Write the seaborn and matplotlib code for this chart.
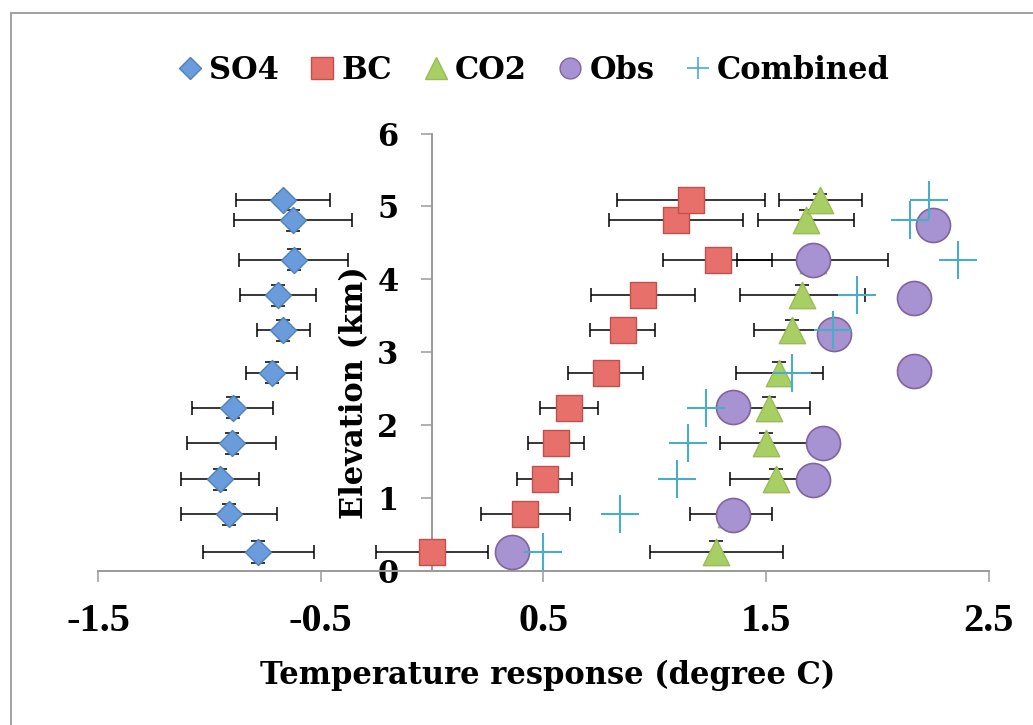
import matplotlib
matplotlib.use("Agg")
import matplotlib.pyplot as plt
import seaborn as sns
from matplotlib.lines import Line2D
from matplotlib.patches import Rectangle
from matplotlib.font_manager import FontProperties

# ---------------- data ----------------
series_names = ["SO4", "BC", "CO2", "Obs", "Combined"]

elev_model = [0.26, 0.78, 1.26, 1.75, 2.24, 2.72, 3.30, 3.78, 4.27, 4.81, 5.09]
elev_obs = [0.26, 0.77, 1.25, 1.75, 2.25, 2.75, 3.25, 3.75, 4.26, 4.75]

so4 = [-0.78, -0.91, -0.95, -0.90, -0.895, -0.72, -0.667, -0.69, -0.62, -0.625, -0.67]
so4_err = [0.25, 0.215, 0.175, 0.20, 0.183, 0.115, 0.12, 0.17, 0.245, 0.265, 0.21]

bc = [0.0, 0.42, 0.506, 0.557, 0.617, 0.78, 0.856, 0.948, 1.283, 1.095, 1.164]
bc_err = [0.253, 0.20, 0.123, 0.125, 0.13, 0.167, 0.146, 0.232, 0.246, 0.30, 0.331]

co2 = [1.278, 1.344, 1.546, 1.50, 1.513, 1.56, 1.615, 1.663, 1.71, 1.68, 1.745]
co2_err = [0.297, 0.184, 0.209, 0.204, 0.183, 0.195, 0.17, 0.28, 0.339, 0.217, 0.188]

elev_err = [0.145] * 10 + [0.08]

obs = [0.361, 1.352, 1.712, 1.757, 1.352, 2.164, 1.805, 2.164, 1.712, 2.251]
combined = [0.498, 0.846, 1.10, 1.152, 1.23, 1.618, 1.80, 1.91, 2.362, 2.146, 2.232]

x_ticks = [-1.5, -0.5, 0.5, 1.5, 2.5]
x_ticklabels = ["-1.5", "-0.5", "0.5", "1.5", "2.5"]
y_ticks = [0, 1, 2, 3, 4, 5, 6]
y_ticklabels = ["0", "1", "2", "3", "4", "5", "6"]

# ---------------- style ----------------
sns.set_theme(style="ticks")
plt.rcParams["font.family"] = ["DejaVu Serif"]
plt.rcParams["font.weight"] = "bold"
plt.rcParams["text.color"] = "black"

face = {"SO4": "#6A9CDB", "BC": "#E8706B", "CO2": "#A8CF64", "Obs": "#A793D1", "Combined": "#4BACC6"}
edge = {"SO4": "#4F81BD", "BC": "#C0504D", "CO2": "#9BBB59", "Obs": "#8064A2", "Combined": "#4BACC6"}

fig = plt.figure(figsize=(10.33, 7.25), dpi=100)
ax = fig.add_axes([0.09487, 0.2124, 0.8621, 0.6034])

err_kw = dict(fmt="none", ecolor="black", elinewidth=1.1, capsize=5, capthick=1.1, zorder=2)
ax.errorbar(so4, elev_model, xerr=so4_err, yerr=elev_err, **err_kw)
ax.errorbar(bc, elev_model, xerr=bc_err, yerr=elev_err, **err_kw)
ax.errorbar(co2, elev_model, xerr=co2_err, yerr=elev_err, **err_kw)

sns.scatterplot(x=so4, y=elev_model, marker="D", s=175, color=face["SO4"],
                edgecolor=edge["SO4"], linewidth=1, zorder=3, ax=ax, legend=False)
sns.scatterplot(x=bc, y=elev_model, marker="s", s=340, color=face["BC"],
                edgecolor=edge["BC"], linewidth=1, zorder=3, ax=ax, legend=False)
sns.scatterplot(x=co2, y=elev_model, marker="^", s=360, color=face["CO2"],
                edgecolor=edge["CO2"], linewidth=1, zorder=3, ax=ax, legend=False)
sns.scatterplot(x=obs, y=elev_obs, marker="o", s=600, color=face["Obs"],
                edgecolor=edge["Obs"], linewidth=1.2, zorder=4, ax=ax, legend=False)
sns.scatterplot(x=combined, y=elev_model, marker="+", s=730, color=face["Combined"],
                linewidth=1.5, zorder=5, ax=ax, legend=False)

# ---------------- axes ----------------
ax.set_xlim(-1.5, 2.5)
ax.set_ylim(0, 6)
ax.set_xticks(x_ticks)
ax.set_xticklabels(x_ticklabels)
ax.set_yticks(y_ticks)
ax.set_yticklabels(y_ticklabels)

for s in ["top", "right"]:
    ax.spines[s].set_visible(False)
ax.spines["left"].set_position(("data", 0))
for s in ["left", "bottom"]:
    ax.spines[s].set_color("#9A9A9A")
    ax.spines[s].set_linewidth(1.4)

ax.tick_params(axis="both", direction="out", length=8, width=1.1, color="#9A9A9A",
               bottom=True, left=True)
ax.tick_params(axis="x", pad=15)
ax.tick_params(axis="y", pad=16)

for lbl in ax.get_xticklabels():
    lbl.set_fontfamily("Liberation Serif")
    lbl.set_fontsize(29)
    lbl.set_fontweight("bold")
    lbl.set_color("black")
for lbl in ax.get_yticklabels():
    lbl.set_fontfamily("DejaVu Serif")
    lbl.set_fontsize(22)
    lbl.set_fontweight("bold")
    lbl.set_color("black")

ax.set_xlabel("Temperature response (degree C)", fontsize=22, fontweight="bold",
              family="DejaVu Serif", color="black", va="baseline", ha="center")
ax.xaxis.set_label_coords(0.505, -0.2586)
ax.set_ylabel("Elevation (km)", fontsize=22, fontweight="bold",
              family="DejaVu Serif", color="black", va="baseline", ha="center")
ax.yaxis.label.set_rotation_mode("anchor")
ax.yaxis.set_label_coords(0.2978, 0.4085)
ax.grid(False)

# ---------------- legend ----------------
handles = [
    Line2D([], [], ls="none", marker="D", ms=11.5, mfc=face["SO4"], mec=edge["SO4"], mew=1),
    Line2D([], [], ls="none", marker="s", ms=16, mfc=face["BC"], mec=edge["BC"], mew=1),
    Line2D([], [], ls="none", marker="^", ms=16, mfc=face["CO2"], mec=edge["CO2"], mew=1),
    Line2D([], [], ls="none", marker="o", ms=15, mfc=face["Obs"], mec=edge["Obs"], mew=1),
    Line2D([], [], ls="none", marker="+", ms=16, mec=face["Combined"], mew=1.2),
]
leg = ax.legend(handles, series_names, loc="center", bbox_to_anchor=(0.517, 0.903),
                bbox_transform=fig.transFigure, ncol=5, frameon=False,
                prop=FontProperties(family="DejaVu Serif", weight="bold", size=22),
                labelcolor="black",
                handlelength=0.75, handletextpad=0.25, columnspacing=1.05, borderaxespad=0)

# outer chart border
fig.add_artist(Rectangle((11 / 1033, -0.1), 1.2, (1 - 13 / 725) + 0.1,
                         transform=fig.transFigure, fill=False,
                         edgecolor="#9A9A9A", linewidth=1.3))

fig.savefig("out.png", dpi=100)
